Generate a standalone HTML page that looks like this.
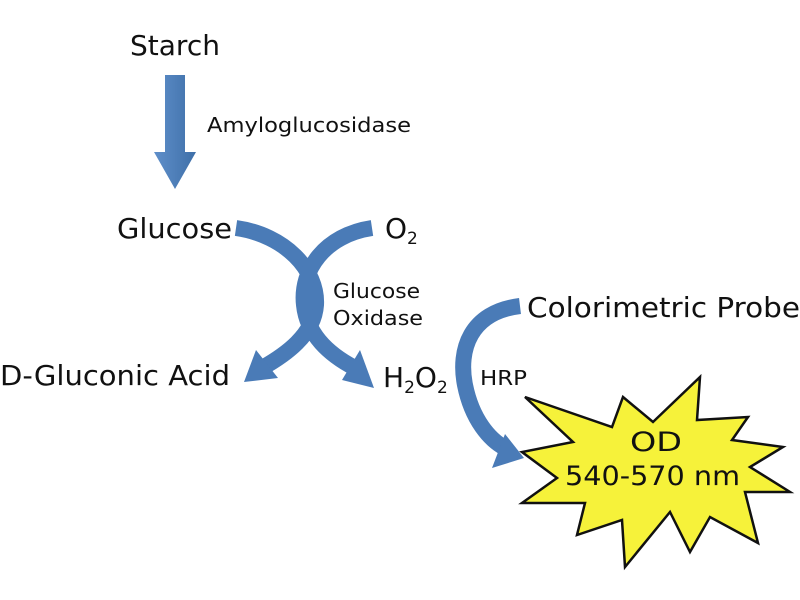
<!DOCTYPE html>
<html><head><style>
html,body{margin:0;padding:0;background:#fff;}
svg{display:block;}
text{font-family:"DejaVu Sans","Liberation Sans",sans-serif;fill:#111;}
</style></head><body>
<svg width="800" height="600" viewBox="0 0 800 600">
<defs>
<linearGradient id="g" x1="0" y1="0" x2="1" y2="0">
<stop offset="0" stop-color="#5f8fca"/><stop offset="1" stop-color="#3e6fa8"/>
</linearGradient>
</defs>
<polygon points="165,75 185,75 185,152 196,152 175,189 154,152 165,152" fill="url(#g)"/>
<path d="M236,228 C285,235 318,270 316,305 C314,335 285,355 262,368" fill="none" stroke="#4a7bb7" stroke-width="16"/>
<polygon points="244,382 256,350 278,378" fill="#4a7bb7"/>
<path d="M372,228 C325,235 300,270 304,305 C307,335 330,355 355,368" fill="none" stroke="#4a7bb7" stroke-width="16"/>
<polygon points="374,388 342,380 360,350" fill="#4a7bb7"/>
<path d="M520,306 C470,312 458,350 465,385 C472,420 490,440 505,448" fill="none" stroke="#4a7bb7" stroke-width="16"/>
<polygon points="524,458 492,468 505,434" fill="#4a7bb7"/>
<polygon points="525,397 612,427 623,397 653,422 700,377 697,420 748,417 732,440 783,447 750,467 790,492 745,492 758,543 710,517 690,552 670,512 625,567 622,520 577,535 585,503 522,503 557,478 522,452 573,442" fill="#f6f23a" stroke="#111" stroke-width="2.5"/>
<text x="130" y="55" font-size="28" textLength="90" lengthAdjust="spacingAndGlyphs">Starch</text>
<text x="207" y="132" font-size="20" textLength="204" lengthAdjust="spacingAndGlyphs">Amyloglucosidase</text>
<text x="117" y="238" font-size="28" textLength="115" lengthAdjust="spacingAndGlyphs">Glucose</text>
<text x="385" y="238" font-size="28">O<tspan font-size="17" dy="6">2</tspan></text>
<text x="333" y="298" font-size="20" textLength="87" lengthAdjust="spacingAndGlyphs">Glucose</text>
<text x="333" y="325" font-size="20" textLength="90" lengthAdjust="spacingAndGlyphs">Oxidase</text>
<text x="0" y="385" font-size="28" textLength="230" lengthAdjust="spacingAndGlyphs">D-Gluconic Acid</text>
<text x="383" y="387" font-size="28">H<tspan font-size="17" dy="6">2</tspan><tspan dy="-6">O</tspan><tspan font-size="17" dy="6">2</tspan></text>
<text x="527" y="317" font-size="28" textLength="273" lengthAdjust="spacingAndGlyphs">Colorimetric Probe</text>
<text x="480" y="385" font-size="20" textLength="47" lengthAdjust="spacingAndGlyphs">HRP</text>
<text x="630" y="451" font-size="27" textLength="52" lengthAdjust="spacingAndGlyphs">OD</text>
<text x="565" y="485" font-size="27" textLength="175" lengthAdjust="spacingAndGlyphs">540-570 nm</text>
</svg>
</body></html>
